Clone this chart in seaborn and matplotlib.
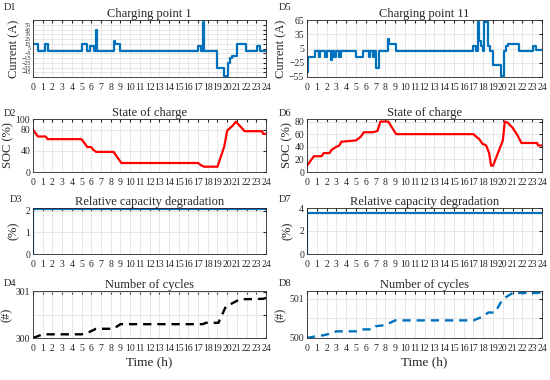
import numpy as np
import pandas as pd
import matplotlib
matplotlib.use("Agg")
import matplotlib.pyplot as plt
import seaborn as sns

# ---- data ----
hours = list(range(25))

# D1 current, charging point 1 (step breakpoints)
cp1_t = [0, 0.5, 1.25, 1.55, 5.0, 5.6, 5.9, 6.25, 6.45, 6.55, 8.3, 8.4, 9.0,
         17.0, 17.3, 17.5, 17.6, 19.0, 19.7, 20.1, 20.3, 20.5, 21.0, 21.9,
         23.1, 23.4, 24]
cp1_i = [15, 0, 15, 0, 15, 0, 10, 0, 45, 0, 20, 15, 0,
         10, 0, 60, 0, -35, -52, -25, -15, -10, 15, 0,
         10, 0, 0]

# D5 current, charging point 11
cp11_t = [0, 0.1, 0.8, 1.2, 1.35, 1.8, 2.0, 2.4, 2.55, 2.8, 3.0, 3.3, 3.5,
          5.0, 5.7, 6.3, 6.4, 6.7, 6.8, 7.0, 7.4, 8.3, 8.4, 9.1,
          17.0, 17.3, 17.45, 17.55, 17.75, 18.0, 18.1, 18.5, 18.7, 19.0,
          19.8, 20.1, 20.3, 20.5, 21.6, 23.1, 23.4, 24]
cp11_i = [-45, -12, 0, -12, 0, -12, 0, -20, 0, -12, 0, -12, 0,
          -12, 0, -12, 0, -12, 0, -35, 0, 25, 15, 0,
          10, 0, 60, 20, 10, 0, 60, 10, 0, -30,
          -52, 0, 10, 15, 0, 10, 2, 2]

# D2 SOC, charging point 1
soc1_t = [0, 0.5, 1.3, 1.5, 5.0, 5.6, 6.0, 6.2, 6.5, 8.3, 9.1, 17.0, 17.3,
          17.6, 19.0, 19.7, 20.0, 20.3, 20.6, 20.9, 21.8, 23.6, 23.7, 24]
soc1_v = [80, 67, 67, 62, 62, 47, 47, 42, 38, 38, 17, 17, 13,
          10, 10, 48, 78, 83, 88, 95, 77, 77, 72, 72]

# D6 SOC, charging point 11
soc11_t = [0, 0.7, 1.5, 1.7, 2.3, 2.5, 3.0, 3.3, 3.5, 5.0, 5.5, 5.8, 6.7,
           7.2, 7.5, 8.3, 9.1, 17.0, 17.2, 17.6, 17.9, 18.3, 18.6, 18.8,
           19.0, 20.0, 20.2, 20.5, 21.0, 21.5, 21.9, 23.5, 23.6, 24]
soc11_v = [10, 25, 25, 30, 30, 35, 40, 42, 48, 50, 56, 63, 63,
           65, 80, 80, 60, 60, 57, 52, 45, 42, 30, 10,
           10, 50, 80, 78, 70, 58, 46, 46, 42, 42]

# D3 / D7 relative capacity degradation (%)
deg_t = [0, 0, 24]
deg1_v = [0, 2.07, 2.07]
deg11_v = [0, 3.6, 3.6]

# D4 / D8 number of cycles
cyc1_t = [0, 1.0, 5.0, 5.5, 6.0, 6.5, 8.3, 9.0, 17.5, 17.8, 19.1, 19.9,
          20.5, 21.3, 23.7, 24]
cyc1_v = [300.0, 300.08, 300.08, 300.1, 300.15, 300.2, 300.2, 300.3, 300.3,
          300.33, 300.33, 300.7, 300.75, 300.84, 300.85, 300.87]
cyc11_t = [0, 1.0, 1.7, 2.5, 3.0, 5.0, 5.5, 6.7, 7.0, 8.0, 9.0, 17.0, 18.0,
           18.5, 19.2, 20.0, 20.5, 21.0, 23.5, 24]
cyc11_v = [500.0, 500.05, 500.07, 500.12, 500.17, 500.17, 500.22, 500.22,
           500.3, 500.33, 500.45, 500.45, 500.55, 500.65, 500.65, 501.0,
           501.07, 501.15, 501.15, 501.17]

blue = "#0072BD"

sns.set_style("whitegrid")
plt.rcParams["font.family"] = ["Liberation Serif", "DejaVu Serif"]
plt.rcParams["axes.edgecolor"] = "#262626"
plt.rcParams["grid.color"] = "#e3e3e3"
plt.rcParams["grid.linewidth"] = 0.6

fig = plt.figure(figsize=(5.5, 3.8), dpi=100)

lefts = [33 / 550, 307 / 550]
widths = [233 / 550, 235 / 550]
rows = [(20, 77), (119, 172), (208, 254), (291, 338)]


def make_ax(col, row):
    top, bot = rows[row]
    ax = fig.add_axes([lefts[col], 1 - bot / 380, widths[col], (bot - top) / 380])
    ax.set_xlim(0, 24)
    ax.set_xticks(hours)
    ax.set_xticklabels([str(h) for h in hours])
    ax.tick_params(axis="both", labelsize=7, direction="in", length=2,
                   pad=2, top=True, right=True)
    ax.tick_params(axis="x", pad=4)
    for s in ax.spines.values():
        s.set_linewidth(0.6)
    return ax


def draw(ax, t, v, steps=False, **kw):
    d = pd.DataFrame({"t": t, "v": v})
    if steps:
        kw["drawstyle"] = "steps-post"
    sns.lineplot(data=d, x="t", y="v", ax=ax, estimator=None, sort=False, **kw)
    ax.set_xlabel("")


panels = [
    (0, "Charging point 1", cp1_t, cp1_i),
    (1, "Charging point 11", cp11_t, cp11_i),
]
for col, title, t, v in panels:
    ax = make_ax(col, 0)
    draw(ax, t, v, steps=True, color=blue, linewidth=1.6)
    ax.set_ylim(-55, 65)
    if col == 0:
        ax.set_yticks(list(range(-45, 56, 10)))
        ax.tick_params(axis="y", labelsize=4.3, pad=1.5)
    else:
        ax.set_yticks([-55, -25, 5, 35, 65])
    ax.set_title(title, fontsize=9, pad=2)
    ax.set_ylabel("Current (A)", fontsize=9, labelpad=1)

for col, t, v, lim, ticks in [(0, soc1_t, soc1_v, (0, 100), [0, 40, 80, 100]),
                              (1, soc11_t, soc11_v, (0, 84), [0, 20, 40, 60, 80])]:
    ax = make_ax(col, 1)
    draw(ax, t, v, color="red", linewidth=1.6)
    ax.set_ylim(*lim)
    ax.set_yticks(ticks)
    ax.set_title("State of charge", fontsize=9, pad=2)
    ax.set_ylabel("SOC (%)", fontsize=9, labelpad=1)

for col, v, lim, ticks in [(0, deg1_v, (0, 2.12), [0, 1, 2]),
                           (1, deg11_v, (0, 4), [0, 2, 4])]:
    ax = make_ax(col, 2)
    draw(ax, deg_t, v, color=blue, linewidth=1.6)
    ax.set_ylim(*lim)
    ax.set_yticks(ticks)
    ax.set_title("Relative capacity degradation", fontsize=9, pad=2)
    ax.set_ylabel("(%)", fontsize=9, labelpad=4)

for col, t, v, base, top, color in [(0, cyc1_t, cyc1_v, 300, 301.02, "black"),
                                    (1, cyc11_t, cyc11_v, 500, 501.2, blue)]:
    ax = make_ax(col, 3)
    draw(ax, t, v, color=color, linewidth=1.7, dashes=(3.5, 2.5))
    ax.set_ylim(base, top)
    ax.set_yticks([base, base + 0.5, base + 1])
    ax.set_yticklabels([str(base), "", str(base + 1)])
    ax.set_title("Number of cycles", fontsize=9, pad=2)
    ax.set_ylabel("(#)", fontsize=9, labelpad=2)
    ax.set_xlabel("Time (h)", fontsize=9.5, labelpad=3)

for tag, x, y in [("D1", 4, 8), ("D2", 4, 113), ("D3", 10, 200), ("D4", 4, 284),
                  ("D5", 279, 8), ("D6", 279, 113), ("D7", 279, 200), ("D8", 279, 284)]:
    fig.text(x / 550, 1 - y / 380, tag, fontsize=7.5, va="center", ha="left")

fig.savefig("out.png", dpi=100)
